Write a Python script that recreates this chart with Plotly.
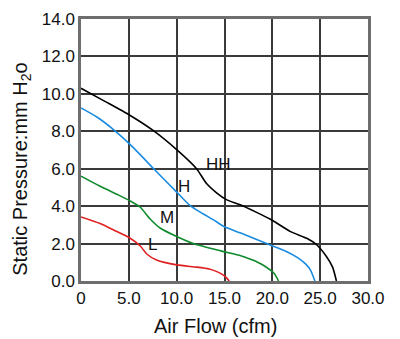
import plotly.graph_objects as go

# P-Q curves for four fan speeds
hh_flow = [0, 2.5, 5.1, 7.5, 10.0, 12.1, 13.1, 14.2, 15.2, 16.7, 18.3, 19.8, 21.9, 23.6, 24.6, 25.6, 26.3, 26.7]
hh_pres = [10.3, 9.6, 8.86, 8.06, 7.02, 5.99, 5.22, 4.7, 4.35, 4.06, 3.68, 3.3, 2.64, 2.28, 1.95, 1.35, 0.74, 0.0]

h_flow = [0, 1.7, 3.4, 5.1, 7.6, 10.0, 11.4, 13.9, 15.0, 16.7, 19.65, 21.3, 22.6, 23.5, 24.0, 24.45]
h_pres = [9.25, 8.75, 8.09, 7.31, 6.0, 4.75, 4.03, 3.25, 2.9, 2.56, 1.95, 1.62, 1.26, 0.9, 0.57, 0.0]

m_flow = [0, 2.0, 4.1, 5.1, 6.2, 7.2, 8.3, 10.0, 11.8, 14.6, 16.7, 17.4, 18.4, 19.1, 20.2, 20.65]
m_pres = [5.6, 5.06, 4.55, 4.29, 3.94, 3.33, 2.82, 2.38, 1.99, 1.61, 1.35, 1.22, 1.02, 0.83, 0.4, 0.0]

l_flow = [0, 2.0, 3.4, 5.1, 6.2, 6.9, 7.9, 10.0, 12.1, 13.4, 14.2, 15.0, 15.5]
l_pres = [3.42, 3.07, 2.73, 2.3, 1.87, 1.43, 1.12, 0.86, 0.74, 0.64, 0.5, 0.28, 0.0]

x_ticks = [0, 5, 10, 15, 20, 25, 30]
x_tick_text = ["0", "5.0", "10.0", "15.0", "20.0", "25.0", "30.0"]
y_ticks = [0, 2, 4, 6, 8, 10, 12, 14]
y_tick_text = ["0.0", "2.0", "4.0", "6.0", "8.0", "10.0", "12.0", "14.0"]

curve_names = ["HH", "H", "M", "L"]
curve_colors = ["#000000", "#1a8ce0", "#0f8a2c", "#e02020"]
label_pos = [(14.4, 6.25), (10.8, 5.05), (8.95, 3.4), (7.5, 1.95)]

x_title = "Air Flow (cfm)"
y_title = "Static Pressure:mm H<sub>2</sub>o"

font_family = "Liberation Sans, Arial, sans-serif"

fig = go.Figure()
for fx, fy, name, color in zip(
    [hh_flow, h_flow, m_flow, l_flow],
    [hh_pres, h_pres, m_pres, l_pres],
    curve_names, curve_colors,
):
    fig.add_trace(go.Scatter(
        x=fx, y=fy, mode="lines", name=name,
        line=dict(color=color, width=1.6, shape="spline", smoothing=0.6),
        showlegend=False,
    ))

# curve labels
for name, (lx, ly) in zip(curve_names, label_pos):
    fig.add_annotation(x=lx, y=ly, text=name, showarrow=False,
                       font=dict(family=font_family, size=17, color="#111111"))

# axis titles
fig.add_annotation(xref="paper", yref="paper", x=0.467, y=-0.173,
                   xanchor="center", yanchor="middle", showarrow=False,
                   text=x_title, font=dict(family=font_family, size=20, color="#111111"))
fig.add_annotation(xref="paper", yref="paper", x=-0.206, y=0.428,
                   xanchor="center", yanchor="middle", showarrow=False, textangle=-90,
                   text=y_title, font=dict(family=font_family, size=20, color="#111111"))

fig.update_layout(
    width=400, height=339,
    margin=dict(l=81, r=32, t=10, b=58),
    paper_bgcolor="white", plot_bgcolor="white",
    font=dict(family=font_family, size=17, color="#111111"),
)
fig.update_xaxes(
    range=[0, 30], tickvals=x_ticks, ticktext=x_tick_text,
    tickfont=dict(size=17),
    showgrid=True, gridcolor="#3a3a3a", gridwidth=1.6,
    showline=True, linecolor="#6e6e6e", linewidth=2.5, mirror=True,
    ticks="", zeroline=False,
)
fig.update_yaxes(
    range=[0, 14], tickvals=y_ticks, ticktext=y_tick_text,
    tickfont=dict(size=17),
    showgrid=True, gridcolor="#3a3a3a", gridwidth=1.6,
    showline=True, linecolor="#6e6e6e", linewidth=2.5, mirror=True,
    ticks="", zeroline=False,
)

fig.write_html("out.html")
